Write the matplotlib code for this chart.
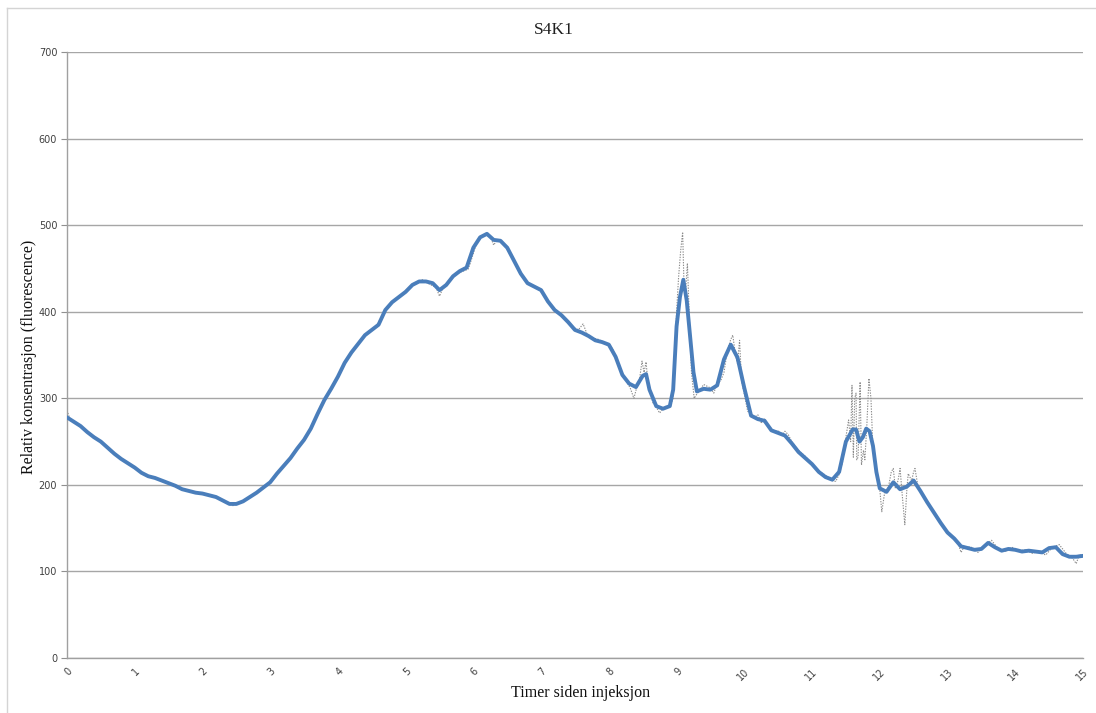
import matplotlib
matplotlib.use("Agg")
import matplotlib.pyplot as plt
from matplotlib.lines import Line2D

title = "S4K1"
x_label = "Timer siden injeksjon"
y_label = "Relativ konsentrasjon (fluorescence)"
x_ticks = list(range(0, 16))
y_ticks = [0, 100, 200, 300, 400, 500, 600, 700]

# Smoothed series (hours, relative fluorescence)
smooth_t = [0.0, 0.1, 0.2, 0.3, 0.4, 0.5, 0.6, 0.7, 0.8, 0.9,
            1.0, 1.1, 1.2, 1.3, 1.4, 1.5, 1.6, 1.7, 1.8, 1.9,
            2.0, 2.1, 2.2, 2.3, 2.4, 2.5, 2.6, 2.7, 2.8, 2.9,
            3.0, 3.1, 3.2, 3.3, 3.4, 3.5, 3.6, 3.7, 3.8, 3.9,
            4.0, 4.1, 4.2, 4.3, 4.4, 4.5, 4.6, 4.7, 4.8, 4.9,
            5.0, 5.1, 5.2, 5.3, 5.4, 5.5, 5.6, 5.7, 5.8, 5.9,
            6.0, 6.1, 6.2, 6.3, 6.4, 6.5, 6.6, 6.7, 6.8, 6.9,
            7.0, 7.1, 7.2, 7.3, 7.4, 7.5, 7.6, 7.7, 7.8, 7.9,
            8.0, 8.1, 8.2, 8.3, 8.4, 8.5, 8.55, 8.6, 8.7, 8.8, 8.9,
            8.95, 9.0, 9.05, 9.1, 9.15, 9.2, 9.25, 9.3, 9.4, 9.5, 9.6,
            9.7, 9.8, 9.9, 10.0, 10.1, 10.2, 10.3, 10.4, 10.5, 10.6,
            10.7, 10.8, 10.9, 11.0, 11.1, 11.2, 11.3, 11.4, 11.5, 11.6,
            11.65, 11.7, 11.75, 11.8, 11.85, 11.9, 11.95, 12.0, 12.1, 12.2,
            12.3, 12.4, 12.5, 12.6, 12.7, 12.8, 12.9, 13.0, 13.1, 13.2,
            13.3, 13.4, 13.5, 13.6, 13.7, 13.8, 13.9, 14.0, 14.1, 14.2,
            14.3, 14.4, 14.5, 14.6, 14.7, 14.8, 14.9, 15.0]
smooth_v = [278, 273, 268, 261, 255, 250, 243, 236, 230, 225,
            220, 214, 210, 208, 205, 202, 199, 195, 193, 191,
            190, 188, 186, 182, 178, 178, 181, 186, 191, 197,
            203, 213, 222, 231, 242, 252, 265, 282, 298, 311,
            325, 341, 353, 363, 373, 379, 385, 402, 411, 417,
            423, 431, 435, 435, 433, 425, 431, 441, 447, 451,
            474, 486, 490, 483, 482, 474, 459, 444, 433, 429,
            425, 412, 402, 396, 388, 379, 376, 372, 367, 365,
            362, 348, 327, 317, 313, 326, 328, 310, 291, 288, 291,
            310, 383, 417, 437, 413, 371, 330, 308, 311, 310, 315,
            345, 362, 347, 312, 280, 276, 274, 263, 260, 257,
            248, 238, 231, 224, 215, 209, 206, 215, 250, 264,
            264, 250, 255, 265, 262, 245, 215, 196, 192, 203,
            195, 198, 205, 193, 180, 168, 156, 145, 138, 129,
            127, 125, 126, 133, 128, 124, 126, 125, 123, 124,
            123, 122, 127, 128, 120, 117, 117, 118]

# Raw measurements (hours, relative fluorescence)
raw_t = [0.0, 0.05, 0.15, 0.25, 0.35, 0.45, 0.55, 0.65, 0.75, 0.85, 0.95,
         1.05, 1.15, 1.25, 1.35, 1.45, 1.55, 1.65, 1.75, 1.85, 1.95,
         2.05, 2.15, 2.25, 2.35, 2.45, 2.55, 2.65, 2.75, 2.85, 2.95,
         3.05, 3.15, 3.25, 3.35, 3.45, 3.55, 3.65, 3.75, 3.85, 3.95,
         4.05, 4.15, 4.25, 4.35, 4.45, 4.55, 4.65, 4.75, 4.85, 4.95,
         5.05, 5.15, 5.25, 5.35, 5.45, 5.5, 5.55, 5.65, 5.75, 5.85, 5.92, 5.95,
         6.05, 6.15, 6.25, 6.3, 6.35, 6.45, 6.55, 6.65, 6.75, 6.85, 6.95,
         7.05, 7.15, 7.25, 7.35, 7.45, 7.55, 7.62, 7.68, 7.75, 7.85, 7.95,
         8.05, 8.15, 8.25, 8.32, 8.37, 8.42, 8.45, 8.49, 8.52, 8.55, 8.58,
         8.62, 8.65, 8.7, 8.75, 8.8, 8.85, 8.9, 8.95, 9.0, 9.03, 9.06,
         9.09, 9.11, 9.13, 9.16, 9.19, 9.22, 9.26, 9.3, 9.35, 9.4, 9.45,
         9.5, 9.55, 9.6, 9.65, 9.7, 9.75, 9.8, 9.83, 9.87, 9.9, 9.93,
         9.96, 10.0, 10.05, 10.1, 10.15, 10.2, 10.25, 10.3, 10.35, 10.4,
         10.45, 10.5, 10.55, 10.6, 10.65, 10.7, 10.8, 10.9, 11.0, 11.1,
         11.2, 11.3, 11.35, 11.4, 11.45, 11.5, 11.54, 11.57, 11.59, 11.61,
         11.63, 11.65, 11.66, 11.68, 11.71, 11.73, 11.76, 11.78, 11.81, 11.84,
         11.87, 11.9, 11.95, 12.0, 12.03, 12.07, 12.13, 12.17, 12.2, 12.23,
         12.27, 12.3, 12.33, 12.37, 12.4, 12.42, 12.47, 12.5, 12.52, 12.56,
         12.6, 12.65, 12.75, 12.85, 12.95, 13.05, 13.15, 13.2, 13.25, 13.35,
         13.45, 13.55, 13.65, 13.75, 13.85, 13.95, 14.05, 14.15, 14.25, 14.35,
         14.45, 14.55, 14.65, 14.75, 14.85, 14.9, 14.95, 15.0]
raw_v = [286, 275, 271, 263, 259, 252, 247, 238, 234, 227, 223,
         216, 212, 209, 207, 203, 201, 196, 194, 192, 191,
         189, 186, 185, 180, 176, 180, 183, 189, 193, 200,
         208, 218, 226, 237, 247, 258, 273, 290, 305, 318,
         333, 347, 358, 369, 376, 382, 394, 408, 414, 420,
         428, 433, 437, 432, 428, 418, 427, 437, 444, 447, 449, 455,
         480, 489, 487, 477, 483, 479, 466, 450, 437, 430, 427,
         419, 407, 399, 393, 383, 379, 386, 374, 370, 368, 363,
         358, 338, 322, 311, 300, 315, 320, 343, 330, 342, 315,
         305, 295, 290, 283, 288, 291, 290, 300, 400, 440, 470,
         492, 430, 420, 456, 390, 330, 300, 305, 310, 316, 314,
         312, 306, 318, 320, 330, 355, 368, 373, 350, 340, 367,
         320, 305, 285, 282, 278, 281, 272, 276, 268, 265,
         261, 263, 257, 262, 258, 250, 240, 233, 224, 216,
         211, 205, 204, 212, 226, 255, 275, 250, 315, 232,
         300, 306, 229, 232, 319, 223, 240, 229, 270, 323,
         300, 240, 215, 195, 169, 190, 198, 215, 219, 196,
         205, 219, 190, 154, 195, 213, 205, 215, 219, 200,
         193, 186, 175, 161, 151, 142, 134, 122, 129, 128,
         122, 130, 136, 126, 123, 128, 124, 125, 121, 123,
         119, 128, 131, 121, 115, 109, 120, 117]

fig = plt.figure(figsize=(10.96, 7.13), dpi=100)
ax = fig.add_axes([0.0611, 0.0771, 0.927, 0.8499])

ax.plot(raw_t, raw_v, color="#8c8c8c", lw=0.8, ls=(0, (1.2, 1.2)), zorder=2)
ax.plot(smooth_t, smooth_v, color="#4a7ebb", lw=2.8, zorder=3,
        solid_capstyle="round", solid_joinstyle="round")

ax.set_xlim(0, 15)
ax.set_ylim(0, 700)
ax.set_xticks(x_ticks)
ax.set_yticks(y_ticks)
ax.set_xticklabels([str(v) for v in x_ticks], rotation=45, ha="right",
                   rotation_mode="anchor", fontsize=7, color="#404040",
                   family="DejaVu Sans")
ax.set_yticklabels([str(v) for v in y_ticks], fontsize=7, color="#404040",
                   family="DejaVu Sans")
ax.tick_params(axis="y", length=4, width=0.8, color="#909090", pad=3)
ax.tick_params(axis="x", length=0, pad=6)
ax.grid(axis="y", color="#a6a6a6", lw=1.0)
ax.set_axisbelow(True)
for s in ["top", "right"]:
    ax.spines[s].set_visible(False)
for s in ["left", "bottom"]:
    ax.spines[s].set_color("#a0a0a0")
    ax.spines[s].set_linewidth(1.0)

fig.text(554 / 1096, 1 - 30 / 713, title, fontsize=12.5, family="Liberation Serif",
         color="#202020", ha="center", va="center")
fig.text(581 / 1096, 1 - 693 / 713, x_label, fontsize=11.5, family="Liberation Serif",
         color="#101010", ha="center", va="center")
fig.text(29 / 1096, 1 - 357 / 713, y_label, fontsize=11.5, family="Liberation Serif",
         color="#101010", ha="center", va="center", rotation=90)

# faint frame of the surrounding sheet
fig.add_artist(Line2D([7 / 1096, 7 / 1096], [0, 1 - 8 / 713],
                      transform=fig.transFigure, color="#d4d4d4", lw=1))
fig.add_artist(Line2D([7 / 1096, 1], [1 - 8 / 713, 1 - 8 / 713],
                      transform=fig.transFigure, color="#d4d4d4", lw=1))

fig.savefig("out.png", dpi=100)
